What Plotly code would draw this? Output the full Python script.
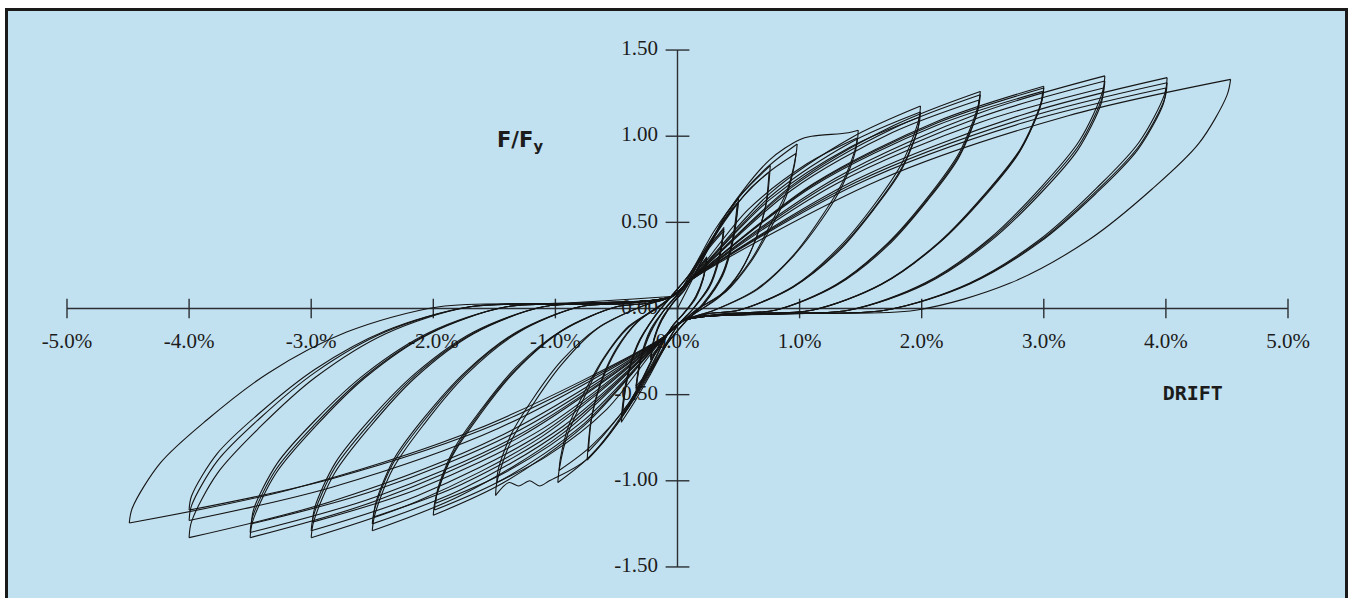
import plotly.graph_objects as go

# ---------------- tick values / labels ----------------
x_tick_vals = [-5, -4, -3, -2, -1, 0, 1, 2, 3, 4, 5]
x_tick_text = ["-5.0%", "-4.0%", "-3.0%", "-2.0%", "-1.0%", "0.0%", "1.0%", "2.0%", "3.0%", "4.0%", "5.0%"]
y_tick_vals = [1.5, 1.0, 0.5, 0.0, -0.5, -1.0, -1.5]
y_tick_text = ["1.50", "1.00", "0.50", "0.00", "-0.50", "-1.00", "-1.50"]

# ---------------- hysteresis data (drift %, F/Fy), branches separated by None ----------------
drift_025 = [0, 0.08, 0.16, 0.24, None,
             0.24, 0.21, 0.15, 0.05, -0.04, -0.12, -0.22, None,
             -0.22, -0.19, -0.13, -0.04, 0.05, 0.14, 0.24, None,
             0.24, 0.21, 0.15, 0.05, -0.04, -0.12, -0.22, None,
             -0.22, -0.19, -0.13, -0.04, 0.05, 0.14, 0.24, None,
             0.24, 0.21, 0.15, 0.05, -0.04, -0.12, -0.22]
force_025 = [0, 0.11, 0.22, 0.30, None,
             0.30, 0.18, 0.07, -0.03, -0.10, -0.20, -0.30, None,
             -0.30, -0.18, -0.07, 0.03, 0.10, 0.20, 0.29, None,
             0.29, 0.17, 0.07, -0.03, -0.10, -0.19, -0.29, None,
             -0.29, -0.17, -0.07, 0.03, 0.10, 0.20, 0.29, None,
             0.29, 0.17, 0.06, -0.03, -0.10, -0.19, -0.28]

drift_0375 = [-0.22, -0.19, -0.13, -0.04, 0.06, 0.16, 0.27, 0.38, None,
              0.38, 0.34, 0.26, 0.13, 0.00, -0.11, -0.23, -0.34, None,
              -0.34, -0.30, -0.22, -0.10, 0.02, 0.14, 0.27, 0.38, None,
              0.38, 0.34, 0.26, 0.13, 0.00, -0.11, -0.23, -0.34, None,
              -0.34, -0.30, -0.22, -0.10, 0.02, 0.14, 0.27, 0.38, None,
              0.38, 0.34, 0.26, 0.13, 0.00, -0.11, -0.23, -0.34]
force_0375 = [-0.28, -0.17, -0.06, 0.03, 0.12, 0.25, 0.37, 0.47, None,
              0.47, 0.30, 0.13, 0.00, -0.10, -0.23, -0.37, -0.47, None,
              -0.47, -0.30, -0.14, 0.00, 0.10, 0.24, 0.37, 0.46, None,
              0.46, 0.29, 0.13, 0.00, -0.10, -0.23, -0.37, -0.46, None,
              -0.46, -0.29, -0.13, 0.00, 0.10, 0.23, 0.36, 0.45, None,
              0.45, 0.28, 0.12, 0.00, -0.10, -0.22, -0.36, -0.45]

drift_05 = [-0.34, -0.30, -0.22, -0.10, 0.04, 0.18, 0.34, 0.50, None,
            0.50, 0.46, 0.37, 0.22, 0.06, -0.08, -0.22, -0.35, -0.46, None,
            -0.46, -0.42, -0.33, -0.18, -0.04, 0.10, 0.25, 0.39, 0.50, None,
            0.50, 0.46, 0.37, 0.22, 0.06, -0.08, -0.22, -0.35, -0.46, None,
            -0.46, -0.42, -0.33, -0.18, -0.04, 0.10, 0.25, 0.38, 0.49, None,
            0.49, 0.45, 0.36, 0.21, 0.06, -0.08, -0.22, -0.34, -0.45]
force_05 = [-0.45, -0.28, -0.12, 0.00, 0.11, 0.27, 0.47, 0.64, None,
            0.64, 0.42, 0.20, 0.03, -0.08, -0.20, -0.38, -0.54, -0.66, None,
            -0.66, -0.44, -0.22, -0.04, 0.08, 0.20, 0.37, 0.52, 0.62, None,
            0.62, 0.41, 0.19, 0.03, -0.08, -0.20, -0.37, -0.52, -0.63, None,
            -0.63, -0.42, -0.21, -0.04, 0.08, 0.20, 0.37, 0.51, 0.61, None,
            0.61, 0.40, 0.19, 0.03, -0.08, -0.20, -0.36, -0.50, -0.61]

drift_075 = [-0.45, -0.41, -0.32, -0.18, -0.04, 0.10, 0.30, 0.52, 0.76, None,
             0.76, 0.73, 0.65, 0.52, 0.35, 0.14, -0.05, -0.20, -0.40, -0.60, -0.74, None,
             -0.74, -0.71, -0.63, -0.50, -0.33, -0.12, 0.05, 0.20, 0.40, 0.60, 0.75, None,
             0.75, 0.72, 0.64, 0.51, 0.34, 0.14, -0.05, -0.20, -0.40, -0.60, -0.73]
force_075 = [-0.61, -0.40, -0.20, -0.04, 0.08, 0.20, 0.45, 0.66, 0.83, None,
             0.83, 0.62, 0.42, 0.22, 0.07, -0.03, -0.12, -0.32, -0.57, -0.77, -0.88, None,
             -0.88, -0.66, -0.44, -0.24, -0.08, 0.03, 0.12, 0.30, 0.52, 0.70, 0.79, None,
             0.79, 0.59, 0.40, 0.21, 0.07, -0.03, -0.12, -0.31, -0.55, -0.73, -0.83]

drift_10 = [-0.73, -0.70, -0.62, -0.49, -0.32, -0.12, 0.10, 0.41, 0.72, 0.98, None,
            0.98, 0.97, 0.90, 0.77, 0.61, 0.40, 0.15, 0.05, -0.10, -0.41, -0.72, -0.98, None,
            -0.98, -0.97, -0.90, -0.77, -0.61, -0.40, -0.15, -0.05, 0.10, 0.40, 0.71, 0.97, None,
            0.97, 0.96, 0.89, 0.765, 0.60, 0.40, 0.15, 0.05, -0.10, -0.40, -0.71, -0.97]
force_10 = [-0.83, -0.62, -0.41, -0.22, -0.07, 0.03, 0.16, 0.56, 0.81, 0.955, None,
            0.955, 0.89, 0.69, 0.50, 0.29, 0.105, -0.01, -0.07, -0.16, -0.585, -0.86, -1.01, None,
            -1.01, -0.94, -0.73, -0.525, -0.30, -0.11, 0.01, 0.07, 0.16, 0.53, 0.77, 0.90, None,
            0.90, 0.84, 0.65, 0.47, 0.27, 0.10, -0.01, -0.07, -0.16, -0.55, -0.80, -0.94]

drift_15 = [-0.97, -0.96, -0.89, -0.765, -0.60, -0.40, -0.15, -0.05, 0.10, 0.40, 0.75, 1.00, 1.10, 1.40, 1.48, None,
            1.48, 1.47, 1.36, 1.185, 0.95, 0.65, 0.30, 0.05, -0.10, -0.40, -0.75, -1.05, -1.13, -1.21, -1.30, -1.38, -1.49, None,
            -1.49, -1.48, -1.37, -1.19, -0.95, -0.66, -0.30, -0.05, 0.10, 0.58, 1.06, 1.47, None,
            1.47, 1.46, 1.35, 1.18, 0.94, 0.65, 0.30, 0.05, -0.10, -0.58, -1.07, -1.48]
force_15 = [-0.94, -0.874, -0.677, -0.489, -0.282, -0.103, 0.01, 0.07, 0.16, 0.55, 0.86, 0.98, 1.00, 1.02, 1.035, None,
            1.035, 0.963, 0.745, 0.538, 0.31, 0.114, -0.01, -0.07, -0.16, -0.56, -0.88, -1.00, -1.03, -1.00, -1.03, -1.01, -1.085, None,
            -1.085, -1.01, -0.78, -0.564, -0.326, -0.119, 0.01, 0.07, 0.16, 0.575, 0.84, 0.99, None,
            0.99, 0.92, 0.713, 0.515, 0.297, 0.109, -0.01, -0.07, -0.16, -0.585, -0.857, -1.01]

drift_20 = [-1.48, -1.47, -1.36, -1.185, -0.95, -0.65, -0.30, -0.05, 0.10, 0.76, 1.42, 1.99, None,
            1.99, 1.975, 1.84, 1.62, 1.32, 0.95, 0.50, 0.25, 0.05, -0.10, -0.765, -1.43, -2.00, None,
            -2.00, -1.985, -1.85, -1.625, -1.325, -0.95, -0.50, -0.25, -0.05, 0.10, 0.76, 1.42, 1.99, None,
            1.99, 1.975, 1.84, 1.62, 1.32, 0.95, 0.50, 0.25, 0.05, -0.10, -0.76, -1.42, -1.99, None,
            -1.99, -1.975, -1.84, -1.62, -1.32, -0.95, -0.50, -0.25, -0.05, 0.10, 0.76, 1.42, 1.98, None,
            1.98, 1.965, 1.83, 1.61, 1.32, 0.94, 0.50, 0.25, 0.05, -0.10, -0.76, -1.42, -1.98]
force_20 = [-1.01, -0.94, -0.727, -0.525, -0.303, -0.111, 0.01, 0.07, 0.16, 0.67, 0.99, 1.175, None,
            1.175, 1.093, 0.846, 0.611, 0.353, 0.129, -0.01, -0.03, -0.07, -0.16, -0.68, -1.013, -1.20, None,
            -1.20, -1.116, -0.864, -0.624, -0.36, -0.132, 0.01, 0.03, 0.07, 0.16, 0.65, 0.964, 1.14, None,
            1.14, 1.06, 0.821, 0.593, 0.342, 0.125, -0.01, -0.03, -0.07, -0.16, -0.665, -0.988, -1.17, None,
            -1.17, -1.088, -0.842, -0.608, -0.351, -0.129, 0.01, 0.03, 0.07, 0.16, 0.635, 0.939, 1.11, None,
            1.11, 1.032, 0.799, 0.577, 0.333, 0.122, -0.01, -0.03, -0.07, -0.16, -0.645, -0.955, -1.13]

drift_25 = [-1.98, -1.965, -1.83, -1.61, -1.32, -0.94, -0.50, -0.25, -0.05, 0.10, 0.93, 1.77, 2.48, None,
            2.48, 2.46, 2.31, 2.06, 1.72, 1.30, 0.80, 0.40, 0.05, -0.10, -0.94, -1.78, -2.50, None,
            -2.50, -2.48, -2.33, -2.075, -1.735, -1.31, -0.80, -0.40, -0.05, 0.10, 0.93, 1.77, 2.48, None,
            2.48, 2.46, 2.31, 2.06, 1.72, 1.30, 0.80, 0.40, 0.05, -0.10, -0.94, -1.78, -2.50, None,
            -2.50, -2.48, -2.33, -2.075, -1.735, -1.31, -0.80, -0.40, -0.05, 0.10, 0.93, 1.76, 2.47, None,
            2.47, 2.45, 2.30, 2.05, 1.72, 1.30, 0.80, 0.40, 0.05, -0.10, -0.94, -1.77, -2.49]
force_25 = [-1.13, -1.051, -0.814, -0.588, -0.339, -0.124, 0.01, 0.03, 0.07, 0.16, 0.71, 1.062, 1.26, None,
            1.26, 1.172, 0.907, 0.655, 0.378, 0.139, -0.01, -0.03, -0.07, -0.16, -0.725, -1.087, -1.29, None,
            -1.29, -1.20, -0.929, -0.671, -0.387, -0.142, 0.01, 0.03, 0.07, 0.16, 0.70, 1.046, 1.24, None,
            1.24, 1.153, 0.893, 0.645, 0.372, 0.136, -0.01, -0.03, -0.07, -0.16, -0.705, -1.054, -1.25, None,
            -1.25, -1.163, -0.90, -0.65, -0.375, -0.138, 0.01, 0.03, 0.07, 0.16, 0.685, 1.021, 1.21, None,
            1.21, 1.125, 0.871, 0.629, 0.363, 0.133, -0.01, -0.03, -0.07, -0.16, -0.685, -1.021, -1.21]

drift_30 = [-2.49, -2.47, -2.32, -2.07, -1.73, -1.31, -0.80, -0.40, -0.05, 0.10, 1.115, 2.13, 3.00, None,
            3.00, 2.98, 2.81, 2.525, 2.145, 1.67, 1.10, 0.55, 0.05, -0.10, -1.115, -2.13, -3.00, None,
            -3.00, -2.98, -2.81, -2.525, -2.145, -1.67, -1.10, -0.55, -0.05, 0.10, 1.115, 2.13, 3.00, None,
            3.00, 2.98, 2.81, 2.525, 2.145, 1.67, 1.10, 0.55, 0.05, -0.10, -1.115, -2.13, -3.00, None,
            -3.00, -2.98, -2.81, -2.525, -2.145, -1.67, -1.10, -0.55, -0.05, 0.10, 1.11, 2.12, 2.99, None,
            2.99, 2.97, 2.80, 2.52, 2.14, 1.67, 1.10, 0.55, 0.05, -0.10, -1.11, -2.12, -2.99]
force_30 = [-1.21, -1.125, -0.871, -0.629, -0.363, -0.133, 0.01, 0.03, 0.07, 0.16, 0.725, 1.087, 1.29, None,
            1.29, 1.20, 0.929, 0.671, 0.387, 0.142, -0.01, -0.03, -0.07, -0.16, -0.745, -1.119, -1.33, None,
            -1.33, -1.237, -0.958, -0.692, -0.399, -0.146, 0.01, 0.03, 0.07, 0.16, 0.72, 1.078, 1.28, None,
            1.28, 1.19, 0.922, 0.666, 0.384, 0.141, -0.01, -0.03, -0.07, -0.16, -0.725, -1.087, -1.29, None,
            -1.29, -1.20, -0.929, -0.671, -0.387, -0.142, 0.01, 0.03, 0.07, 0.16, 0.71, 1.062, 1.26, None,
            1.26, 1.172, 0.907, 0.655, 0.378, 0.139, -0.01, -0.03, -0.07, -0.16, -0.70, -1.046, -1.24]

drift_35 = [-2.99, -2.97, -2.80, -2.52, -2.14, -1.67, -1.10, -0.55, -0.05, 0.10, 1.29, 2.48, 3.50, None,
            3.50, 3.48, 3.29, 2.975, 2.555, 2.03, 1.40, 0.70, 0.05, -0.10, -1.29, -2.48, -3.50, None,
            -3.50, -3.48, -3.29, -2.975, -2.555, -2.03, -1.40, -0.70, -0.05, 0.10, 1.29, 2.48, 3.50, None,
            3.50, 3.48, 3.29, 2.975, 2.555, 2.03, 1.40, 0.70, 0.05, -0.10, -1.29, -2.48, -3.50, None,
            -3.50, -3.48, -3.29, -2.975, -2.555, -2.03, -1.40, -0.70, -0.05, 0.10, 1.29, 2.47, 3.49, None,
            3.49, 3.47, 3.28, 2.97, 2.55, 2.03, 1.40, 0.70, 0.05, -0.10, -1.29, -2.47, -3.49]
force_35 = [-1.24, -1.153, -0.893, -0.645, -0.372, -0.136, 0.01, 0.03, 0.07, 0.16, 0.755, 1.136, 1.35, None,
            1.35, 1.256, 0.972, 0.702, 0.405, 0.149, -0.01, -0.03, -0.07, -0.16, -0.745, -1.119, -1.33, None,
            -1.33, -1.237, -0.958, -0.692, -0.399, -0.146, 0.01, 0.03, 0.07, 0.16, 0.74, 1.111, 1.32, None,
            1.32, 1.228, 0.95, 0.686, 0.396, 0.145, -0.01, -0.03, -0.07, -0.16, -0.73, -1.095, -1.30, None,
            -1.30, -1.209, -0.936, -0.676, -0.39, -0.143, 0.01, 0.03, 0.07, 0.16, 0.72, 1.078, 1.28, None,
            1.28, 1.19, 0.922, 0.666, 0.384, 0.141, -0.01, -0.03, -0.07, -0.16, -0.705, -1.054, -1.25]

drift_40 = [-3.49, -3.47, -3.28, -2.97, -2.55, -2.03, -1.40, -0.70, -0.05, 0.10, 1.47, 2.84, 4.01, None,
            4.01, 3.99, 3.78, 3.43, 2.97, 2.39, 1.70, 0.85, 0.05, -0.10, -1.465, -2.83, -4.00, None,
            -4.00, -3.98, -3.77, -3.425, -2.965, -2.39, -1.70, -0.85, -0.05, 0.10, 1.47, 2.84, 4.01, None,
            4.01, 3.99, 3.78, 3.43, 2.97, 2.39, 1.70, 0.85, 0.05, -0.10, -1.465, -2.83, -4.00, None,
            -4.00, -3.98, -3.77, -3.425, -2.965, -2.39, -1.70, -0.85, -0.05, 0.10, 1.465, 2.83, 4.00, None,
            4.00, 3.98, 3.77, 3.425, 2.965, 2.39, 1.70, 0.85, 0.05, -0.10, -1.465, -2.83, -4.00]
force_40 = [-1.25, -1.163, -0.90, -0.65, -0.375, -0.138, 0.01, 0.03, 0.07, 0.16, 0.75, 1.128, 1.34, None,
            1.34, 1.246, 0.965, 0.697, 0.402, 0.147, -0.01, -0.03, -0.07, -0.16, -0.745, -1.119, -1.33, None,
            -1.33, -1.237, -0.958, -0.692, -0.399, -0.146, 0.01, 0.03, 0.07, 0.16, 0.735, 1.103, 1.31, None,
            1.31, 1.218, 0.943, 0.681, 0.393, 0.144, -0.01, -0.03, -0.07, -0.16, -0.695, -1.037, -1.23, None,
            -1.23, -1.144, -0.886, -0.64, -0.369, -0.135, 0.01, 0.03, 0.07, 0.16, 0.72, 1.078, 1.28, None,
            1.28, 1.19, 0.922, 0.666, 0.384, 0.141, -0.01, -0.03, -0.07, -0.16, -0.665, -0.988, -1.17]

drift_45 = [-4.00, -3.98, -3.77, -3.425, -2.965, -2.39, -1.70, -0.85, -0.05, 0.10, 1.65, 3.20, 4.53, None,
            4.53, 4.50, 4.27, 3.885, 3.37, 2.72, 1.95, 1.00, 0.05, -0.10, -1.64, -3.17, -4.49, None,
            -4.49, -4.465, -4.235, -3.855, -3.35, -2.71, -1.95, -1.00, -0.05]
force_45 = [-1.17, -1.088, -0.842, -0.608, -0.351, -0.129, 0.01, 0.03, 0.07, 0.16, 0.745, 1.119, 1.33, None,
            1.33, 1.237, 0.958, 0.692, 0.399, 0.146, -0.01, -0.03, -0.07, -0.16, -0.70, -1.05, -1.245, None,
            -1.245, -1.158, -0.896, -0.647, -0.374, -0.137, 0.01, 0.03, 0.07]

loop_groups = [(drift_025, force_025), (drift_0375, force_0375), (drift_05, force_05),
               (drift_075, force_075), (drift_10, force_10), (drift_15, force_15),
               (drift_20, force_20), (drift_25, force_25), (drift_30, force_30),
               (drift_35, force_35), (drift_40, force_40), (drift_45, force_45)]

# ---------------- figure ----------------
W, H = 1356, 598
PX_PER_X = 122.1   # pixels per 1 % drift
PX_PER_Y = 172.3   # pixels per 1.0 F/Fy
X0_PX, Y0_PX = 677.5, 308.5
x_range = [-X0_PX / PX_PER_X, (W - X0_PX) / PX_PER_X]
y_range = [-(H - Y0_PX) / PX_PER_Y, Y0_PX / PX_PER_Y]

ink = "#1c1c1c"
axis_col = "#2b2f33"
fig = go.Figure()

# axis lines
fig.add_trace(go.Scatter(x=[x_tick_vals[0], x_tick_vals[-1]], y=[0, 0], mode="lines",
                         line=dict(color=axis_col, width=1.4), hoverinfo="skip", showlegend=False))
fig.add_trace(go.Scatter(x=[0, 0], y=[y_tick_vals[-1], y_tick_vals[0]], mode="lines",
                         line=dict(color=axis_col, width=1.4), hoverinfo="skip", showlegend=False))
# tick marks
fig.add_trace(go.Scatter(x=x_tick_vals, y=[0] * len(x_tick_vals), mode="markers",
                         marker=dict(symbol="line-ns", size=14, line=dict(color=axis_col, width=1.4)),
                         hoverinfo="skip", showlegend=False))
fig.add_trace(go.Scatter(x=[0] * len(y_tick_vals), y=y_tick_vals, mode="markers",
                         marker=dict(symbol="line-ew", size=17, line=dict(color=axis_col, width=1.4)),
                         hoverinfo="skip", showlegend=False))
# tick labels
fig.add_trace(go.Scatter(x=x_tick_vals, y=[-0.20] * len(x_tick_vals), mode="text", text=x_tick_text,
                         textposition="middle center",
                         textfont=dict(family="Liberation Serif, Times New Roman, serif", size=21, color=ink),
                         hoverinfo="skip", showlegend=False, cliponaxis=False))
fig.add_trace(go.Scatter(x=[-0.16] * len(y_tick_vals), y=y_tick_vals, mode="text", text=y_tick_text,
                         textposition="middle left",
                         textfont=dict(family="Liberation Serif, Times New Roman, serif", size=21, color=ink),
                         hoverinfo="skip", showlegend=False, cliponaxis=False))
# axis titles
fig.add_trace(go.Scatter(x=[4.22], y=[-0.50], mode="text", text=["DRIFT"], textposition="middle center",
                         textfont=dict(family="DejaVu Sans Mono, monospace", size=20, color=ink, weight="bold"),
                         hoverinfo="skip", showlegend=False))
fig.add_trace(go.Scatter(x=[-1.29], y=[0.97], mode="text", text=["F/F<sub>y</sub>"], textposition="middle center",
                         textfont=dict(family="DejaVu Sans, sans-serif", size=21, color=ink, weight="bold"),
                         hoverinfo="skip", showlegend=False))

# hysteresis loops
for dx, fy in loop_groups:
    fig.add_trace(go.Scatter(x=dx, y=fy, mode="lines",
                             line=dict(color="#151515", width=1.1, shape="spline", smoothing=0.9),
                             connectgaps=False, hoverinfo="skip", showlegend=False))

fig.update_layout(
    width=W, height=H,
    margin=dict(l=0, r=0, t=0, b=0),
    paper_bgcolor="white",
    plot_bgcolor="rgba(0,0,0,0)",
    xaxis=dict(visible=False, range=x_range, fixedrange=True),
    yaxis=dict(visible=False, range=y_range, fixedrange=True),
    shapes=[dict(type="rect", xref="paper", yref="paper",
                 x0=6.5 / W, x1=1346.5 / W, y0=-0.05, y1=1 - 9.5 / H,
                 fillcolor="#c2e1f0", line=dict(color="#1a1a1a", width=3), layer="below")],
)

fig.write_html("out.html", config={"displayModeBar": False},
               post_script="document.body.style.margin='0';document.body.style.overflow='hidden';")
